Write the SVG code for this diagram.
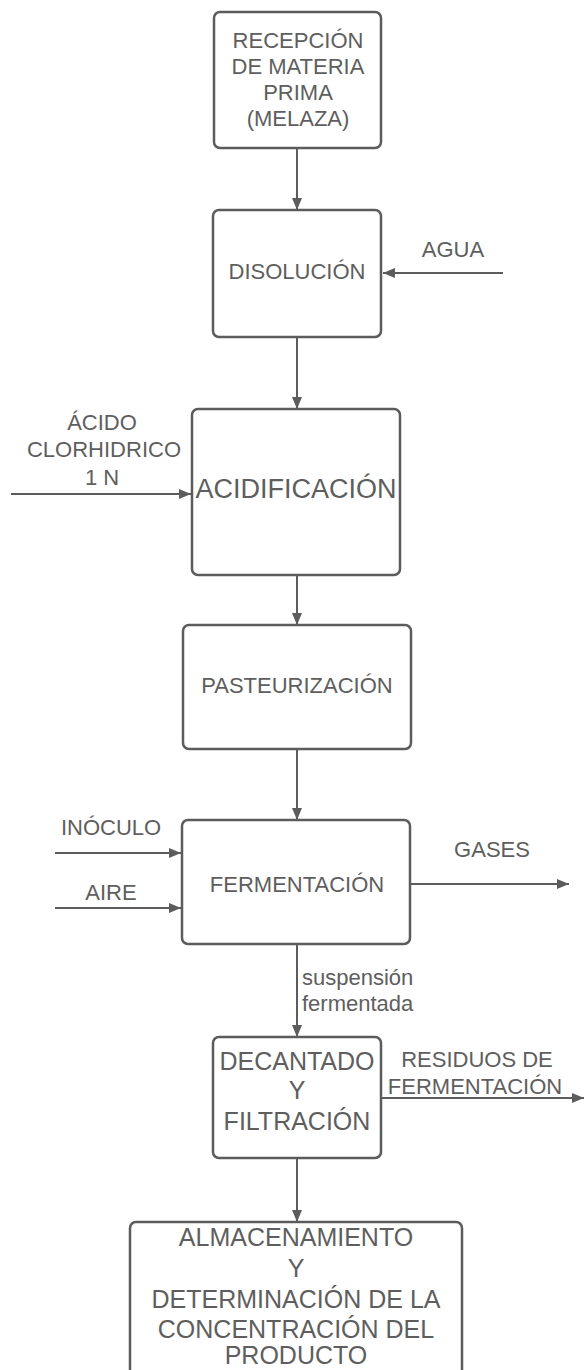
<svg xmlns="http://www.w3.org/2000/svg" width="584" height="1370" viewBox="0 0 584 1370">
<style>
.box{fill:#fff;stroke:#5c5c5c;stroke-width:2.5}
.t{font-family:"Liberation Sans",Arial,sans-serif;fill:#5e5e5e;text-anchor:middle}
.c{stroke:#5c5c5c;stroke-width:2;fill:none;marker-end:url(#ah)}
</style>
<defs>
<marker id="ah" viewBox="0 0 12 10" refX="12" refY="5" markerWidth="13" markerHeight="10" markerUnits="userSpaceOnUse" orient="auto">
<path d="M0,0 L12,5 L0,10 z" fill="#5c5c5c"/>
</marker>
</defs>
<rect width="584" height="1370" fill="#fff"/>
<g id="connectors">
<line class="c" x1="297" y1="148" x2="297" y2="210"/>
<line class="c" x1="297" y1="337" x2="297" y2="409"/>
<line class="c" x1="297" y1="575" x2="297" y2="625"/>
<line class="c" x1="297" y1="749" x2="297" y2="820"/>
<line class="c" x1="297" y1="944" x2="297" y2="1037"/>
<line class="c" x1="297" y1="1158" x2="297" y2="1222"/>
<line class="c" x1="503" y1="273" x2="383" y2="273"/>
<line class="c" x1="11" y1="494" x2="191" y2="494"/>
<line class="c" x1="55" y1="853" x2="181" y2="853"/>
<line class="c" x1="55" y1="908" x2="181" y2="908"/>
<line class="c" x1="411" y1="884" x2="569" y2="884"/>
<line class="c" x1="382" y1="1098" x2="584" y2="1098"/>
<text class="t" x="453" y="257" font-size="22">AGUA</text>
<text class="t" x="102" y="430" font-size="22">ÁCIDO</text>
<text class="t" x="104" y="457" font-size="22">CLORHIDRICO</text>
<text class="t" x="102" y="485" font-size="22">1 N</text>
<text class="t" x="111" y="835" font-size="22">INÓCULO</text>
<text class="t" x="111" y="900" font-size="22">AIRE</text>
<text class="t" x="492" y="857" font-size="22">GASES</text>
<text x="302" y="985" font-size="22" font-family="Liberation Sans, Arial, sans-serif" fill="#5e5e5e">suspensión</text>
<text x="302" y="1011" font-size="22" font-family="Liberation Sans, Arial, sans-serif" fill="#5e5e5e">fermentada</text>
<text class="t" x="477" y="1067" font-size="22">RESIDUOS DE</text>
<text class="t" x="475" y="1094" font-size="22">FERMENTACIÓN</text>
</g>
<g id="n1">
<rect class="box" x="214" y="12" width="167" height="136" rx="6"/>
<text class="t" x="298" y="48" font-size="22">RECEPCIÓN</text>
<text class="t" x="298" y="74" font-size="22">DE MATERIA</text>
<text class="t" x="298" y="100" font-size="22">PRIMA</text>
<text class="t" x="298" y="126" font-size="22">(MELAZA)</text>
</g>
<g id="n2">
<rect class="box" x="213" y="210" width="168" height="127" rx="6"/>
<text class="t" x="297" y="279" font-size="22">DISOLUCIÓN</text>
</g>
<g id="n3">
<rect class="box" x="192" y="409" width="208" height="166" rx="6"/>
<text class="t" x="296" y="498" font-size="27">ACIDIFICACIÓN</text>
</g>
<g id="n4">
<rect class="box" x="183" y="625" width="228" height="124" rx="6"/>
<text class="t" x="297" y="693" font-size="22">PASTEURIZACIÓN</text>
</g>
<g id="n5">
<rect class="box" x="182" y="820" width="228" height="124" rx="6"/>
<text class="t" x="297" y="892" font-size="22">FERMENTACIÓN</text>
</g>
<g id="n6">
<rect class="box" x="213" y="1037" width="168" height="121" rx="6"/>
<text class="t" x="297" y="1070" font-size="25">DECANTADO</text>
<text class="t" x="297" y="1099" font-size="25">Y</text>
<text class="t" x="297" y="1130" font-size="25">FILTRACIÓN</text>
</g>
<g id="n7">
<rect class="box" x="130" y="1222" width="332" height="170" rx="6"/>
<text class="t" x="296" y="1246" font-size="25">ALMACENAMIENTO</text>
<text class="t" x="296" y="1277" font-size="25">Y</text>
<text class="t" x="296" y="1308" font-size="25">DETERMINACIÓN DE LA</text>
<text class="t" x="296" y="1338" font-size="25">CONCENTRACIÓN DEL</text>
<text class="t" x="296" y="1364" font-size="25">PRODUCTO</text>
</g>
</svg>
